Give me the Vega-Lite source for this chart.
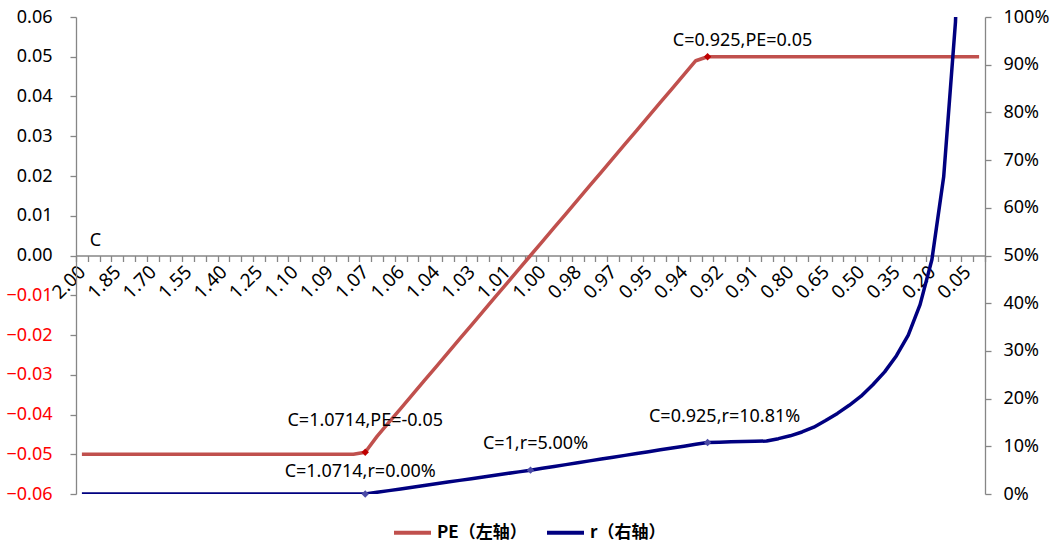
{
  "$schema": "https://vega.github.io/schema/vega-lite/v6.json",
  "width": 909,
  "height": 477,
  "autosize": "none",
  "padding": {"left": 76, "top": 17, "right": 67, "bottom": 48},
  "background": "white",
  "config": {
    "view": {"stroke": null},
    "font": "Noto Sans",
    "axis": {
      "grid": false,
      "domainColor": "#868686",
      "tickColor": "#868686",
      "domainWidth": 1.3,
      "tickWidth": 1.3,
      "labelFont": "Noto Sans",
      "labelFontSize": 18,
      "labelColor": "black"
    }
  },
  "data": {
    "values": [
      {"i": 0, "C": "2.00", "PE": -0.05, "r": 0},
      {"i": 1, "C": "1.95", "PE": -0.05, "r": 0},
      {"i": 2, "C": "1.90", "PE": -0.05, "r": 0},
      {"i": 3, "C": "1.85", "PE": -0.05, "r": 0},
      {"i": 4, "C": "1.80", "PE": -0.05, "r": 0},
      {"i": 5, "C": "1.75", "PE": -0.05, "r": 0},
      {"i": 6, "C": "1.70", "PE": -0.05, "r": 0},
      {"i": 7, "C": "1.65", "PE": -0.05, "r": 0},
      {"i": 8, "C": "1.60", "PE": -0.05, "r": 0},
      {"i": 9, "C": "1.55", "PE": -0.05, "r": 0},
      {"i": 10, "C": "1.50", "PE": -0.05, "r": 0},
      {"i": 11, "C": "1.45", "PE": -0.05, "r": 0},
      {"i": 12, "C": "1.40", "PE": -0.05, "r": 0},
      {"i": 13, "C": "1.35", "PE": -0.05, "r": 0},
      {"i": 14, "C": "1.30", "PE": -0.05, "r": 0},
      {"i": 15, "C": "1.25", "PE": -0.05, "r": 0},
      {"i": 16, "C": "1.20", "PE": -0.05, "r": 0},
      {"i": 17, "C": "1.15", "PE": -0.05, "r": 0},
      {"i": 18, "C": "1.10", "PE": -0.05, "r": 0},
      {"i": 19, "C": "1.095", "PE": -0.05, "r": 0},
      {"i": 20, "C": "1.09", "PE": -0.05, "r": 0},
      {"i": 21, "C": "1.085", "PE": -0.05, "r": 0},
      {"i": 22, "C": "1.08", "PE": -0.05, "r": 0},
      {"i": 23, "C": "1.075", "PE": -0.05, "r": 0},
      {"i": 24, "C": "1.0714", "PE": -0.0495, "r": 0},
      {"i": 25, "C": "1.065", "PE": -0.0455, "r": 0.0036},
      {"i": 26, "C": "1.06", "PE": -0.042, "r": 0.0071},
      {"i": 27, "C": "1.055", "PE": -0.0385, "r": 0.0107},
      {"i": 28, "C": "1.05", "PE": -0.035, "r": 0.0143},
      {"i": 29, "C": "1.045", "PE": -0.0315, "r": 0.0179},
      {"i": 30, "C": "1.04", "PE": -0.028, "r": 0.0214},
      {"i": 31, "C": "1.035", "PE": -0.0245, "r": 0.025},
      {"i": 32, "C": "1.03", "PE": -0.021, "r": 0.0286},
      {"i": 33, "C": "1.025", "PE": -0.0175, "r": 0.0321},
      {"i": 34, "C": "1.02", "PE": -0.014, "r": 0.0357},
      {"i": 35, "C": "1.015", "PE": -0.0105, "r": 0.0393},
      {"i": 36, "C": "1.01", "PE": -0.007, "r": 0.0429},
      {"i": 37, "C": "1.005", "PE": -0.0035, "r": 0.0464},
      {"i": 38, "C": "1.00", "PE": 0, "r": 0.05},
      {"i": 39, "C": "0.995", "PE": 0.0035, "r": 0.0539},
      {"i": 40, "C": "0.99", "PE": 0.007, "r": 0.0577},
      {"i": 41, "C": "0.985", "PE": 0.0105, "r": 0.0616},
      {"i": 42, "C": "0.98", "PE": 0.014, "r": 0.0655},
      {"i": 43, "C": "0.975", "PE": 0.0175, "r": 0.0694},
      {"i": 44, "C": "0.97", "PE": 0.021, "r": 0.0732},
      {"i": 45, "C": "0.965", "PE": 0.0245, "r": 0.0771},
      {"i": 46, "C": "0.96", "PE": 0.028, "r": 0.081},
      {"i": 47, "C": "0.955", "PE": 0.0315, "r": 0.0848},
      {"i": 48, "C": "0.95", "PE": 0.035, "r": 0.0887},
      {"i": 49, "C": "0.945", "PE": 0.0385, "r": 0.0926},
      {"i": 50, "C": "0.94", "PE": 0.042, "r": 0.0965},
      {"i": 51, "C": "0.935", "PE": 0.0455, "r": 0.1003},
      {"i": 52, "C": "0.93", "PE": 0.049, "r": 0.1042},
      {"i": 53, "C": "0.925", "PE": 0.05, "r": 0.1081},
      {"i": 54, "C": "0.92", "PE": 0.05, "r": 0.1087},
      {"i": 55, "C": "0.915", "PE": 0.05, "r": 0.1093},
      {"i": 56, "C": "0.91", "PE": 0.05, "r": 0.1099},
      {"i": 57, "C": "0.905", "PE": 0.05, "r": 0.1105},
      {"i": 58, "C": "0.90", "PE": 0.05, "r": 0.111},
      {"i": 59, "C": "0.85", "PE": 0.05, "r": 0.116},
      {"i": 60, "C": "0.80", "PE": 0.05, "r": 0.122},
      {"i": 61, "C": "0.75", "PE": 0.05, "r": 0.13},
      {"i": 62, "C": "0.70", "PE": 0.05, "r": 0.14},
      {"i": 63, "C": "0.65", "PE": 0.05, "r": 0.154},
      {"i": 64, "C": "0.60", "PE": 0.05, "r": 0.169},
      {"i": 65, "C": "0.55", "PE": 0.05, "r": 0.186},
      {"i": 66, "C": "0.50", "PE": 0.05, "r": 0.205},
      {"i": 67, "C": "0.45", "PE": 0.05, "r": 0.229},
      {"i": 68, "C": "0.40", "PE": 0.05, "r": 0.256},
      {"i": 69, "C": "0.35", "PE": 0.05, "r": 0.29},
      {"i": 70, "C": "0.30", "PE": 0.05, "r": 0.333},
      {"i": 71, "C": "0.25", "PE": 0.05, "r": 0.397},
      {"i": 72, "C": "0.20", "PE": 0.05, "r": 0.491},
      {"i": 73, "C": "0.15", "PE": 0.05, "r": 0.665},
      {"i": 74, "C": "0.10", "PE": 0.05, "r": 0.99},
      {"i": 75, "C": "0.05", "PE": 0.05, "r": 1.7},
      {"i": 76, "C": "0.00", "PE": 0.05, "r": null}
    ]
  },
  "encoding": {
    "x": {
      "field": "i",
      "type": "ordinal",
      "bandPosition": 0.5,
      "scale": {"type": "band", "paddingInner": 0, "paddingOuter": 0},
      "axis": {
        "orient": "bottom",
        "offset": -238.5,
        "tickBand": "extent",
        "tickSize": 6,
        "labelAngle": -45,
        "labelAlign": "right",
        "labelBaseline": "middle",
        "labelPadding": 7,
        "labelFontSize": 19,
        "labelOverlap": false,
        "labelBound": false,
        "labelExpr": "datum.value % 3 == 0 ? ['2.00','1.85','1.70','1.55','1.40','1.25','1.10','1.09','1.07','1.06','1.04','1.03','1.01','1.00','0.98','0.97','0.95','0.94','0.92','0.91','0.80','0.65','0.50','0.35','0.20','0.05'][datum.value / 3] : ''",
        "title": "C",
        "titleFont": "Noto Sans",
        "titleFontSize": 18,
        "titleFontWeight": "normal",
        "titleAngle": 0,
        "titleAlign": "center",
        "titleBaseline": "bottom",
        "titleX": 19,
        "titleY": -6
      }
    }
  },
  "layer": [
    {
      "encoding": {
        "y": {
          "field": "PE",
          "type": "quantitative",
          "scale": {"domain": [-0.06, 0.06], "nice": false, "zero": false},
          "axis": {
            "orient": "left",
            "title": null,
            "values": [-0.06, -0.05, -0.04, -0.03, -0.02, -0.01, 0, 0.01, 0.02, 0.03, 0.04, 0.05, 0.06],
            "format": ".2f",
            "tickSize": 6,
            "labelPadding": 18,
            "labelColor": {"condition": {"test": "datum.value < 0", "value": "#FF0000"}, "value": "black"}
          }
        }
      },
      "layer": [
        {
          "mark": {"type": "line", "strokeWidth": 3.5, "strokeJoin": "round"},
          "encoding": {
            "color": {
              "datum": "PE（左轴）",
              "type": "nominal",
              "scale": {"domain": ["PE（左轴）", "r（右轴）"], "range": ["#C0504D", "#000080"]},
              "legend": {
                "orient": "none",
                "direction": "horizontal",
                "legendX": 316,
                "legendY": 495,
                "title": null,
                "symbolType": "stroke",
                "symbolSize": 1369,
                "symbolStrokeWidth": 4,
                "symbolOpacity": 1,
                "labelFont": "Noto Sans CJK SC",
                "labelFontSize": 17,
                "labelFontWeight": "bold",
                "labelOffset": 4,
                "columnPadding": 12
              }
            }
          }
        },
        {
          "transform": [{"filter": "datum.i == 24 || datum.i == 53"}],
          "mark": {"type": "point", "shape": "diamond", "filled": true, "size": 55, "color": "#C00000", "opacity": 1},
          "encoding": {}
        },
        {
          "transform": [{"filter": "datum.i == 24"}],
          "mark": {"type": "text", "fontSize": 18, "dx": 0, "dy": -31, "baseline": "middle", "align": "center", "color": "black"},
          "encoding": {"text": {"value": "C=1.0714,PE=-0.05"}}
        },
        {
          "transform": [{"filter": "datum.i == 53"}],
          "mark": {"type": "text", "fontSize": 18, "dx": 35, "dy": -16, "baseline": "middle", "align": "center", "color": "black"},
          "encoding": {"text": {"value": "C=0.925,PE=0.05"}}
        }
      ]
    },
    {
      "encoding": {
        "y": {
          "field": "r",
          "type": "quantitative",
          "scale": {"domain": [0, 1], "nice": false, "zero": false},
          "axis": {
            "orient": "right",
            "title": null,
            "values": [0, 0.1, 0.2, 0.3, 0.4, 0.5, 0.6, 0.7, 0.8, 0.9, 1],
            "format": ".0%",
            "tickSize": 6,
            "labelPadding": 12
          }
        }
      },
      "layer": [
        {
          "mark": {"type": "line", "strokeWidth": 3.5, "strokeJoin": "round", "clip": true},
          "encoding": {
            "color": {"datum": "r（右轴）", "type": "nominal"}
          }
        },
        {
          "transform": [{"filter": "datum.i == 24 || datum.i == 38 || datum.i == 53"}],
          "mark": {"type": "point", "shape": "diamond", "filled": true, "size": 55, "color": "#4B4BA6", "opacity": 1},
          "encoding": {}
        },
        {
          "transform": [{"filter": "datum.i == 24"}],
          "mark": {"type": "text", "fontSize": 18, "dx": -5, "dy": -22, "baseline": "middle", "align": "center", "color": "black"},
          "encoding": {"text": {"value": "C=1.0714,r=0.00%"}}
        },
        {
          "transform": [{"filter": "datum.i == 38"}],
          "mark": {"type": "text", "fontSize": 18, "dx": 5, "dy": -26, "baseline": "middle", "align": "center", "color": "black"},
          "encoding": {"text": {"value": "C=1,r=5.00%"}}
        },
        {
          "transform": [{"filter": "datum.i == 53"}],
          "mark": {"type": "text", "fontSize": 18, "dx": 17, "dy": -25, "baseline": "middle", "align": "center", "color": "black"},
          "encoding": {"text": {"value": "C=0.925,r=10.81%"}}
        }
      ]
    }
  ],
  "resolve": {"scale": {"y": "independent"}}
}
